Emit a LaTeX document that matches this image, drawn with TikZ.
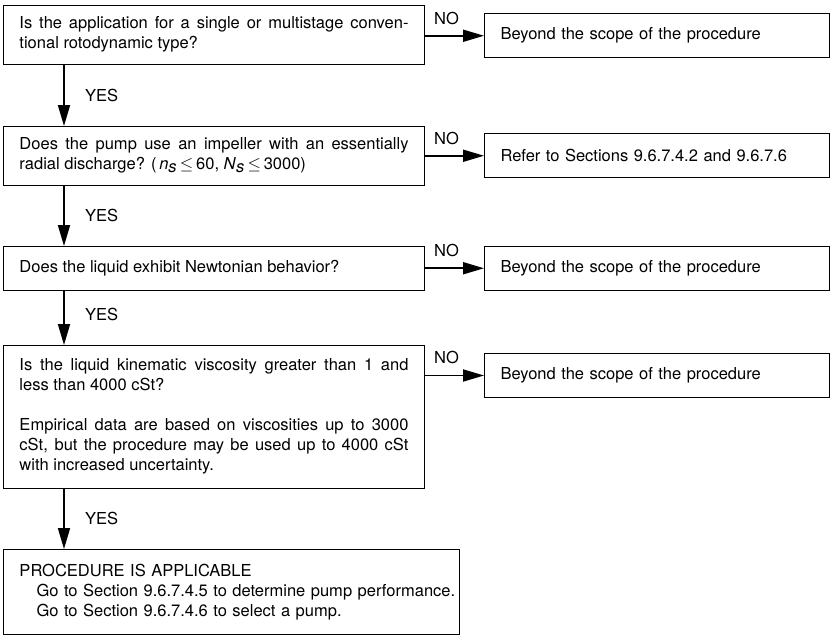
\documentclass[tikz,border=0pt]{standalone}
\usepackage{fontspec}
\setmainfont{TeX Gyre Heros}
\usepackage{amssymb}
\usetikzlibrary{
    positioning, % Para posicionar nós de forma relativa (ex: below=of)
    arrows.meta  % Para as pontas de seta (Triangle)
}
\setlength{\parindent}{0pt}

\begin{document}
\begin{tikzpicture}[x=1pt, y=1pt]

    % --- Definição de Estilos ---
    \tikzset{
        % Estilo para as caixas das perguntas (coluna da esquerda)
        question/.style={
            draw,
            line width=1pt,
            text width=389pt,
            inner xsep=16pt,
            inner ysep=0pt,
            align=justify,
            font=\fontsize{16.5}{20}\selectfont
        },
        % Estilo para as caixas de saída (coluna da direita)
        outcome/.style={
            draw,
            line width=1pt,
            minimum height=44pt,
            text width=313pt,
            inner xsep=16pt,
            align=left,
            font=\fontsize{16.5}{20}\selectfont
        },
        % Estilo para as setas (YES para baixo, NO para a direita)
        flow_arrow/.style={
            -{Triangle[length=21pt, width=12pt]},
            line width=1.8pt
        },
        % Estilo para os rótulos YES / NO
        branch_label/.style={
            font=\fontsize{16.5}{20}\selectfont
        }
    }

    % Moldura da figura
    \useasboundingbox (0,0) rectangle (836,-643);

    % --- Criação dos Nós (coluna das perguntas) ---

    % Pergunta 1
    \node[question, minimum height=58.5pt, anchor=north west] (q1) at (3,-5)
        {Is the application for a single or multistage conven-\linebreak tional rotodynamic type?\par\vspace{13pt}};

    % Pergunta 2
    \node[question, minimum height=58.5pt, below=61.5pt of q1] (q2)
        {Does the pump use an impeller with an essentially\linebreak radial discharge? (\,\textit{n}$_{\textit{s}}$\,$\leq$\,60, \textit{N}$_{\textit{s}}$\,$\leq$\,3000)};

    % Pergunta 3
    \node[question, minimum height=43.5pt, below=60.5pt of q2] (q3)
        {Does the liquid exhibit Newtonian behavior?};

    % Pergunta 4
    \node[question, minimum height=142.5pt, below=54.5pt of q3] (q4)
        {Is the liquid kinematic viscosity greater than 1 and\linebreak less than 4000 cSt?\par\vspace{20pt}Empirical data are based on viscosities up to 3000\linebreak cSt, but the procedure may be used up to 4000 cSt\linebreak with increased uncertainty.};

    % Conclusão
    \node[question, align=left, text width=440pt, inner xsep=8pt, minimum height=84.5pt,
          below=60.5pt of q4.south west, anchor=north west] (q5)
        {\hspace*{8pt}PROCEDURE IS APPLICABLE\\%
         \hspace*{25pt}\mbox{Go to Section 9.6.7.4.5 to determine pump performance.}\\%
         \hspace*{25pt}Go to Section 9.6.7.4.6 to select a pump.};

    % --- Caixas de saída (coluna da direita) ---
    \node[outcome, right=59pt of q1, yshift=-1pt] (r1) {Beyond the scope of the procedure};
    \node[outcome, right=59pt of q2] (r2) {Refer to Sections 9.6.7.4.2 and 9.6.7.6};
    \node[outcome, right=59pt of q3] (r3) {Beyond the scope of the procedure};
    \node[outcome, right=59pt of q4.north east, anchor=north west, yshift=-8pt] (r4) {Beyond the scope of the procedure};

    % --- Desenhando as Setas ---

    % Setas YES (para baixo)
    \draw[flow_arrow] ([xshift=61pt]q1.south west) -- ([xshift=61pt]q2.north west)
        node[branch_label, midway, right=17pt] {YES};
    \draw[flow_arrow] ([xshift=61pt]q2.south west) -- ([xshift=61pt]q3.north west)
        node[branch_label, midway, right=17pt] {YES};
    \draw[flow_arrow] ([xshift=61pt]q3.south west) -- ([xshift=61pt]q4.north west)
        node[branch_label, midway, right=17pt, yshift=3pt] {YES};
    \draw[flow_arrow] ([xshift=61pt]q4.south west) -- ([xshift=61pt]q5.north west)
        node[branch_label, midway, right=17pt] {YES};

    % Setas NO (para a direita)
    \draw[flow_arrow] (q1.east |- r1.west)
        node[branch_label, anchor=south west, xshift=5pt, yshift=7pt] {NO} -- (r1.west);
    \draw[flow_arrow] (q2.east |- r2.west)
        node[branch_label, anchor=south west, xshift=5pt, yshift=7pt] {NO} -- (r2.west);
    \draw[flow_arrow] (q3.east |- r3.west)
        node[branch_label, anchor=south west, xshift=5pt, yshift=7pt] {NO} -- (r3.west);
    \draw[flow_arrow] (q4.east |- r4.west)
        node[branch_label, anchor=south west, xshift=5pt, yshift=7pt] {NO} -- (r4.west);

\end{tikzpicture}
\end{document}
